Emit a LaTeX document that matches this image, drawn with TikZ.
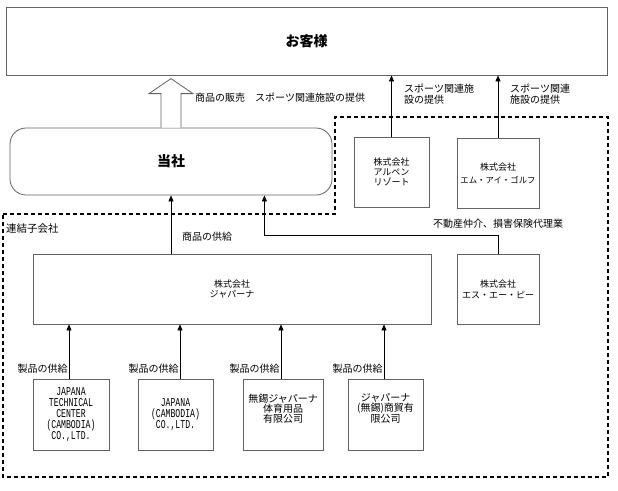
\documentclass[tikz,border=0pt]{standalone}
\usepackage{fontspec}
\setmainfont{Noto Sans CJK JP}
\newfontfamily\latinmono[FakeStretch=0.68]{Liberation Mono}
\usetikzlibrary{arrows.meta,calc}
\definecolor{boxgray}{HTML}{626262}
\tikzset{
  box/.style={draw=boxgray, line width=0.8pt, inner sep=0pt, align=center, font=\fontsize{9}{10}\selectfont},
  bbox/.style={box, minimum height=71, font=\fontsize{10}{10}\selectfont},
  mbox/.style={box, minimum height=71, font=\latinmono\fontsize{12}{11}\selectfont},
  lbl/.style={inner sep=0pt, font=\fontsize{10}{11}\selectfont, align=left},
  arr/.style={line width=0.6pt, -{Triangle[length=6pt,width=5pt]}},
  grp/.style={line width=1.2pt, dash pattern=on 4pt off 3pt}
}
\begin{document}
\begin{tikzpicture}[x=1pt,y=-1pt]
\useasboundingbox (0,0) rectangle (618,490);
% customers
\node[box, minimum width=601, minimum height=68, font=\fontsize{14}{14}\selectfont\bfseries] (cust) at (306.5,41) {お客様};
% company
\node[box, rounded corners=16pt, minimum width=322, minimum height=67, font=\fontsize{14}{14}\selectfont\bfseries] (tosha) at (171,161.5) {当社};
% hollow block arrow
\draw[draw=boxgray, line width=0.8pt, fill=white]
  ($(tosha.north)+(-10,0)$) -- ++(0,-34) -- ++(-12,0) -- ($(tosha.north)+(0,-49)$)
  -- ($(tosha.north)+(22,-34)$) -- ++(-12,0) -- ($(tosha.north)+(10,0)$);
\node[lbl, anchor=west] (sales) at (195,98) {商品の販売　スポーツ関連施設の提供};
% dashed group
\draw[grp] (3,214) -- (335,214) -- (335,117) -- (608,117) -- (608,477) -- (3,477) -- cycle;
% subsidiaries top right
\node[box, minimum width=75, minimum height=70] (alpen) at (391.5,172) {株式会社\\アルペン\\リゾート};
\node[box, minimum width=82, minimum height=70] (emi) at (498,173) {株式会社\\[3pt]{\fontsize{8.4}{10}\selectfont エム・アイ・ゴルフ}};
\draw[arr] (alpen.north) -- (alpen.north |- cust.south);
\draw[arr] (emi.north) -- (emi.north |- cust.south);
\node[lbl, anchor=north west] (l1) at (404,84) {スポーツ関連施\\設の提供};
\node[lbl, anchor=north west] (l2) at (510,84) {スポーツ関連\\施設の提供};
% labels
\node[lbl, anchor=west, font=\fontsize{10.5}{11}\selectfont] (renketsu) at (6,229) {連結子会社};
\node[lbl, anchor=west] (kyokyu) at (182,237) {商品の供給};
\node[lbl, anchor=west] (fudosan) at (433,224) {不動産仲介、損害保険代理業};
% japana and sap
\node[box, minimum width=398, minimum height=70] (japana) at (232,289) {株式会社\\ジャパーナ};
\node[box, minimum width=82, minimum height=70] (sap) at (498,289) {株式会社\\[1pt]エス・エー・ピー};
\draw[arr] (tosha.south |- japana.north) -- (tosha.south);
\draw[arr] (sap.north) |- ($(tosha.south east)+(-68,40)$) -- ($(tosha.south east)+(-68,0)$);
% bottom boxes
\node[mbox, minimum width=76] (b1) at (71,414.5) {JAPANA\\TECHNICAL\\CENTER\\(CAMBODIA)\\CO.,LTD.};
\node[mbox, minimum width=75] (b2) at (175.5,414.5) {JAPANA\\(CAMBODIA)\\CO.,LTD.};
\node[bbox, minimum width=80] (b3) at (283,414.5) {無錫ジャパーナ\\体育用品\\有限公司\\[2pt]};
\node[bbox, minimum width=75] (b4) at (385.5,414.5) {ジャパーナ\\(無錫)商貿有\\限公司\\[4pt]};
\foreach \b/\dx in {b1/-2, b2/4.5, b3/-2, b4/-1.5}{
  \draw[arr] ([xshift=\dx pt]\b.north) -- node[lbl, anchor=east, pos=0.18, xshift=-1pt] {製品の供給} ([xshift=\dx pt]\b.north |- japana.south);
}
\end{tikzpicture}
\end{document}
